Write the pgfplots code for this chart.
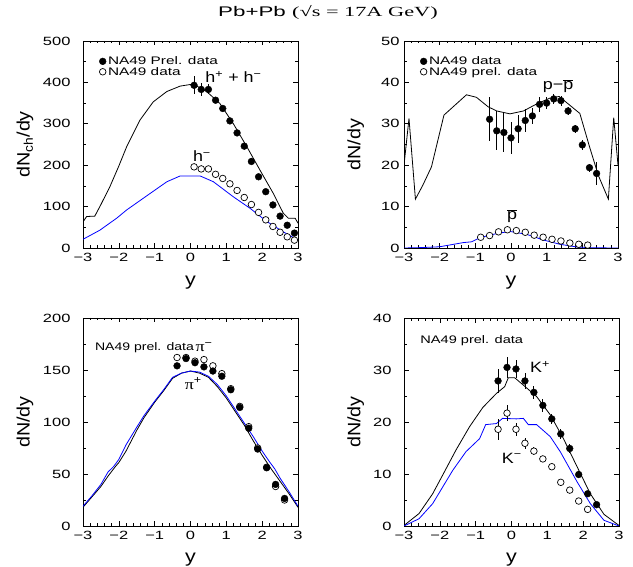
\documentclass[border=0pt]{standalone}
\usepackage{fontspec}
\setmainfont{Liberation Sans}
\newfontfamily\serif{Liberation Serif}
\usepackage{graphicx}
\usepackage{pgfplots}
\pgfplotsset{compat=1.18}
\newcommand{\sx}[2]{\scalebox{#1}[1]{#2}}
\begin{document}
\begin{tikzpicture}
\path[use as bounding box] (0bp,0bp) rectangle (633bp,567bp);
\pgfplotsset{
 panel/.style={scale only axis, xmin=-3, xmax=3, xtick={-3,-2,-1,0,1,2,3},
   xticklabels={\sx{1.38}{−3},\sx{1.38}{−2},\sx{1.38}{−1},\sx{1.38}{0},\sx{1.38}{1},\sx{1.38}{2},\sx{1.38}{3}},
   yticklabel={\sx{1.38}{\pgfmathprintnumber{\tick}}},
   minor x tick num=4, minor y tick num=1,
   tick align=inside, major tick length=4.5bp, minor tick length=2.5bp,
   axis line style={line width=0.9bp}, every tick/.style={black,line width=0.6bp},
   tick label style={font=\fontsize{12}{13}\selectfont},
   xticklabel style={yshift=-2bp},
   xlabel={\sx{1.2}{y}}, xlabel style={font=\fontsize{18}{19}\selectfont, at={(axis description cs:0.5,-0.168)}, anchor=center},
   ylabel style={font=\fontsize{18}{19}\selectfont, anchor=center},
   /pgf/number format/assume math mode=true,
   legend style={draw=none, fill=none, font=\fontsize{11}{12}\selectfont, row sep=-3bp, inner sep=0pt, cells={anchor=west}},
   legend image code/.code={\draw[#1] plot coordinates {(0bp,0bp)};},
 },
 mf/.style={only marks, mark=*, mark size=3.4bp, mark options={fill=black, draw=black}},
 mo/.style={only marks, mark=*, mark size=3.3bp, mark options={fill=white, draw=black, line width=0.7bp}},
 eb/.style={error bars/y dir=both, error bars/y explicit, error bars/error mark=none, error bars/error bar style={line width=0.8bp, black}},
 model/.style={no marks, line width=0.8bp, black},
 modelb/.style={no marks, line width=0.8bp, blue},
}
\node[font=\fontsize{14}{15}\selectfont] at (328bp,555bp) {\sx{1.6}{Pb+Pb {\serif(√s = 17A GeV)}}};

% Panel 1
\begin{axis}[panel, at={(83bp,319bp)}, anchor=south west, width=215bp, height=207bp,
  ymin=0, ymax=500, ytick={0,100,...,500}, ylabel={\sx{1.1}{dN\textsubscript{ch}/dy}},
  yticklabel style={xshift=-9bp},
  ylabel style={at={(axis description cs:-0.27,0.5)}},
  legend style={at={(0.075,0.935)}, anchor=north west}]
\addplot[model, forget plot] coordinates {(-3,63) (-2.9,76) (-2.67,77) (-2.5,105) (-2.25,148) (-2.0,198) (-1.78,245) (-1.41,309) (-1.04,353) (-0.66,378) (-0.29,391) (0,395) (0.2,390) (0.45,378) (0.82,349) (1.19,301) (1.57,245) (1.94,188) (2.31,132) (2.59,84) (2.73,72) (2.92,72) (3,60)};
\addplot[modelb, forget plot] coordinates {(-3,21) (-2.53,43) (-2.06,72) (-1.78,92) (-1.32,120) (-0.66,160) (-0.29,174) (0.27,174) (0.64,160) (1.19,124) (1.66,96) (2.13,64) (2.59,39) (3,19)};
\addplot[mf, eb] table[x=x, y=y, y error=e] {
x y e
0.1 393 22
0.3 383 15
0.5 383 12
0.7 357 0
0.9 337 0
1.1 307 0
1.3 278 0
1.5 246 0
1.7 209 0
1.9 172 0
2.1 136 0
2.3 104 0
2.5 77 0
2.7 55 0
2.9 36 0
};
\addlegendentry{\sx{1.4}{NA49 Prel. data}}
\addplot[mo, eb] table[x=x, y=y, y error=e] {
x y e
0.1 196 8
0.3 191 0
0.5 191 0
0.7 178 0
0.9 168 0
1.1 155 0
1.3 139 0
1.5 122 0
1.7 105 0
1.9 86 0
2.1 68 0
2.3 52 0
2.5 38 0
2.7 27 0
2.9 19 0
};
\addlegendentry{\sx{1.4}{NA49 data}}
\node[font=\fontsize{15}{16}\selectfont] at (axis cs:1.2,413) {\sx{1.2}{h\textsuperscript{+} + h\textsuperscript{−}}};
\node[font=\fontsize{15}{16}\selectfont] at (axis cs:0.32,222) {\sx{1.2}{h\textsuperscript{−}}};
\end{axis}

% Panel 2
\begin{axis}[panel, at={(404bp,319bp)}, anchor=south west, width=214bp, height=207bp,
  ymin=0, ymax=50, ytick={0,10,...,50}, ylabel={\sx{1.1}{dN/dy}},
  yticklabel style={xshift=-1bp},
  ylabel style={at={(axis description cs:-0.225,0.5)}},
  legend style={at={(0.075,0.935)}, anchor=north west}]
\addplot[model, forget plot] coordinates {(-3,20) (-2.86,31.3) (-2.68,11.8) (-2.47,15.2) (-2.23,19.6) (-1.88,32.1) (-1.25,37.0) (-0.97,36.4) (-0.64,34.1) (-0.4,33.1) (-0.03,32.4) (0.35,33.1) (0.72,34.8) (1.09,36.2) (1.35,36.6) (1.93,32.5) (2.2,24.5) (2.45,17.5) (2.73,11.8) (2.88,31.5) (3,20)};
\addplot[modelb, forget plot] coordinates {(-3,0) (-2.5,0.1) (-2,0.3) (-1.34,1.3) (-1.1,1.5) (-0.87,2.5) (-0.4,3.5) (-0.03,4.0) (0.44,3.3) (0.91,1.93) (1.37,0.9) (1.84,0.25) (2.3,0.05) (3,0)};
\addplot[mf, eb] table[x=x, y=y, y error=e] {
x y e
-0.6 31.1 5.3
-0.4 28.3 4.7
-0.2 27.9 4.6
0.0 26.6 3.8
0.2 28.8 3.4
0.4 30.8 2.7
0.6 31.9 2.0
0.8 34.7 1.8
1.0 35.0 1.5
1.2 36.0 1.3
1.4 35.6 1.2
1.6 33.1 1.0
1.8 28.8 1.0
2.0 24.9 1.3
2.2 19.4 1.0
2.4 18.0 2.7
};
\addlegendentry{\sx{1.4}{NA49 data}}
\addplot[mo] table[x=x, y=y] {
x y
-0.85 2.6
-0.6 3.0
-0.35 3.9
-0.1 4.4
0.15 4.2
0.4 3.8
0.65 3.1
0.9 2.6
1.15 2.1
1.4 1.7
1.65 1.2
1.9 0.9
2.15 0.7
};
\addlegendentry{\sx{1.4}{NA49 prel. data}}
\node[font=\fontsize{15}{16}\selectfont] at (axis cs:1.32,39.1) {\sx{1.2}{p−$\overline{\mbox{p}}$}};
\node[font=\fontsize{15}{16}\selectfont] at (axis cs:0.03,7.7) {\sx{1.2}{$\overline{\mbox{p}}$}};
\end{axis}

% Panel 3
\begin{axis}[panel, at={(83bp,41bp)}, anchor=south west, width=215bp, height=208bp,
  ymin=0, ymax=200, ytick={0,50,...,200}, ylabel={\sx{1.1}{dN/dy}},
  yticklabel style={xshift=-9bp},
  ylabel style={at={(axis description cs:-0.27,0.5)}},
  xlabel style={at={(axis description cs:0.5,-0.163)}}]
\addplot[model] coordinates {(-3,18) (-2.75,28) (-2.5,38) (-2.3,48) (-2.1,57) (-2,61) (-1.8,72) (-1.5,92) (-1.3,104) (-1,119) (-0.75,130) (-0.5,142) (-0.25,147) (0,149) (0.25,147) (0.5,143) (0.75,134) (1,123) (1.25,110) (1.5,97) (1.75,82) (2,68) (2.25,55) (2.5,43) (2.75,31) (3,18)};
\addplot[modelb] coordinates {(-3,19) (-2.75,29) (-2.5,40) (-2.3,52) (-2.15,57) (-2,64) (-1.8,78) (-1.5,95) (-1.3,106) (-1,120) (-0.75,131) (-0.5,143) (-0.25,147) (0,149) (0.25,148) (0.5,144) (0.75,136) (1,125) (1.25,112) (1.5,99) (1.75,86) (2.0,72) (2.2,62) (2.35,55) (2.5,46) (2.75,33) (3,19)};
\addplot[mo] table[x=x, y=y] {
x y
-0.375 162
-0.125 162
0.125 158.5
0.375 160
0.625 154
0.875 146.5
1.125 132
1.375 115
1.625 95.5
1.875 75
2.125 56.5
2.375 38
2.625 25
};
\addplot[mf] table[x=x, y=y] {
x y
-0.375 154
-0.125 161
0.125 157
0.375 153
0.625 149
0.875 144
1.125 131
1.375 114
1.625 94
1.875 74
2.125 56
2.375 40
2.625 26.5
};
\node[font=\fontsize{11}{12}\selectfont, anchor=west] at (axis cs:-2.76,171) {\sx{1.28}{NA49 prel. data}};
\node[font=\fontsize{15}{16}\selectfont] at (axis cs:0.38,172) {\sx{1.2}{{\serif π}\textsuperscript{−}}};
\node[font=\fontsize{15}{16}\selectfont] at (axis cs:0.08,137) {\sx{1.2}{{\serif π}\textsuperscript{+}}};
\end{axis}

% Panel 4
\begin{axis}[panel, at={(404bp,41bp)}, anchor=south west, width=215bp, height=208bp,
  ymin=0, ymax=40, ytick={0,10,...,40}, ylabel={\sx{1.1}{dN/dy}},
  yticklabel style={xshift=-9bp},
  ylabel style={at={(axis description cs:-0.225,0.5)}},
  xlabel style={at={(axis description cs:0.5,-0.163)}}]
\addplot[model] coordinates {(-3,0.1) (-2.58,2.4) (-2.2,6.2) (-1.92,9.8) (-1.55,14.6) (-1.17,19.1) (-0.8,22.8) (-0.42,25.5) (-0.19,26.8) (-0.09,28.5) (0.09,28.5) (0.33,27.1) (0.7,24.9) (1.08,21.4) (1.45,16.8) (1.83,11.4) (2.2,6.2) (2.58,2.25) (3,0.1)};
\addplot[modelb] coordinates {(-3,0) (-2.58,1.4) (-2.2,4.3) (-1.92,7.5) (-1.64,10.7) (-1.27,14.3) (-0.89,16.8) (-0.72,19.5) (-0.42,19.7) (-0.25,20.7) (0.14,20.6) (0.33,20.7) (0.47,19.5) (0.7,19.5) (1.08,17.2) (1.36,14.3) (1.83,8.5) (2.2,4.3) (2.58,1.1) (3,0)};
\addplot[mf, eb] table[x=x, y=y, y error=e] {
x y e
-0.375 27.9 2.3
-0.125 30.5 2.0
0.125 30.2 1.8
0.375 27.9 1.5
0.625 25.7 1.2
0.875 23.2 1.2
1.125 20.6 1.0
1.375 17.7 1.0
1.625 14.9 0.8
1.875 9.9 0.6
2.125 6.2 0.5
2.375 4.1 0.4
};
\addplot[mo, eb] table[x=x, y=y, y error=e] {
x y e
-0.375 18.6 2.0
-0.125 21.7 1.5
0.125 18.6 1.3
0.375 15.9 1.0
0.625 14.4 0.8
0.875 12.9 0
1.125 11.4 0
1.375 8.4 0
1.625 6.9 0
1.875 4.8 0
2.125 3.2 0
};
\node[font=\fontsize{11}{12}\selectfont, anchor=west] at (axis cs:-2.64,35.6) {\sx{1.33}{NA49 prel. data}};
\node[font=\fontsize{15}{16}\selectfont] at (axis cs:0.8,30.6) {\sx{1.2}{K\textsuperscript{+}}};
\node[font=\fontsize{15}{16}\selectfont] at (axis cs:0.01,13.1) {\sx{1.2}{K\textsuperscript{−}}};
\end{axis}
\end{tikzpicture}
\end{document}
